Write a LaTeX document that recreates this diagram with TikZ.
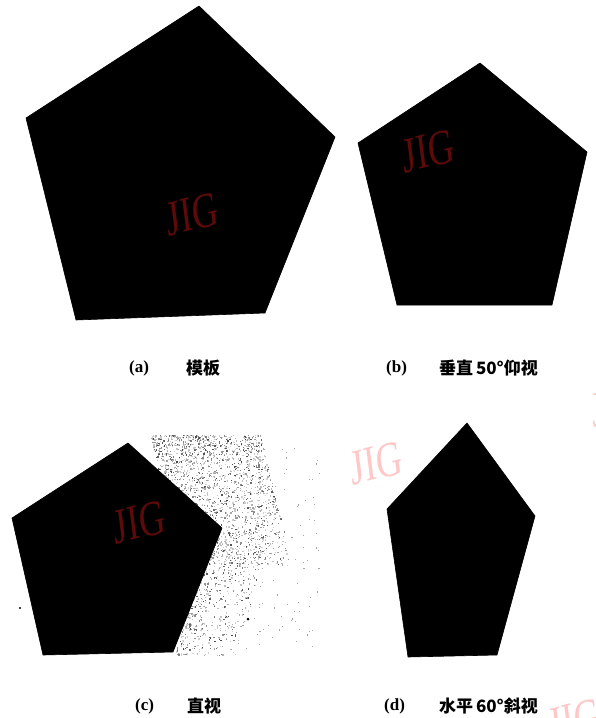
\documentclass[tikz,border=0pt]{standalone}
\usepackage{fontspec}
\setmainfont{Liberation Serif}
\newfontfamily\cjk{Noto Sans CJK SC}
\newfontfamily\wmfont{Liberation Serif}
\begin{document}
\begin{tikzpicture}[x=1pt,y=-1pt,
  shapefill/.style={fill=black,draw=black,line width=0.6pt,line join=round},
  capparen/.style={font=\fontsize{17}{17}\selectfont\bfseries,inner sep=0,anchor=west},
  captext/.style={font=\fontsize{17}{17}\selectfont\cjk\bfseries,inner sep=0,anchor=west},
  wmdark/.style={font=\fontsize{50}{50}\selectfont\wmfont,text=wmred,xscale=0.72,rotate=10,inner sep=0},
  wmlight/.style={font=\fontsize{50}{50}\selectfont\wmfont,text=wmpink,xscale=0.72,rotate=10,inner sep=0}]
\definecolor{wmred}{RGB}{92,10,10}
\definecolor{wmpink}{RGB}{255,200,200}
\useasboundingbox (0,0) rectangle (596,718);
\fill[white] (0,0) rectangle (596,718);
% speckle noise beside (c)
\pgfmathsetseed{7}
\foreach \i in {1,...,1900}{
  \pgfmathsetmacro{\py}{435+130*rnd^1.4}
  \pgfmathsetmacro{\px}{150+(\py-435)*0.25+110*rnd^1.2}
  \pgfmathsetmacro{\gv}{18+55*rnd^2}
  \fill[black!\gv] (\px,\py) rectangle ++(1.3,1.3);
}
\foreach \i in {1,...,600}{
  \pgfmathsetmacro{\py}{530+125*rnd}
  \pgfmathsetmacro{\px}{212-(\py-530)*0.3+60*rnd^1.6}
  \pgfmathsetmacro{\gv}{18+55*rnd^2}
  \fill[black!\gv] (\px,\py) rectangle ++(1.3,1.3);
}
\foreach \i in {1,...,120}{
  \pgfmathsetmacro{\px}{240+80*rnd}
  \pgfmathsetmacro{\py}{440+210*rnd}
  \fill[black!35] (\px,\py) rectangle ++(1.1,1.1);
}
\fill[black] (248,619) circle (1.5);
\fill[black] (20,608) circle (1.2);
% pentagons
\fill[shapefill] (199,6) -- (335,137) -- (265,313) -- (76,320) -- (26,118) -- cycle;
\fill[shapefill] (480,63) -- (587,152) -- (552,305) -- (397,305) -- (358,143) -- cycle;
\fill[shapefill] (128,443) -- (222,528) -- (173,652) -- (43,655) -- (12,518) -- cycle;
\fill[shapefill] (467,423) -- (535,516) -- (497,655) -- (408,657) -- (387,509) -- cycle;
% watermarks
\node[wmdark] (wa) at (192,214) {JIG};
\node[wmdark] (wb) at (428,151) {JIG};
\node[wmdark] (wc) at (139,522) {JIG};
\node[wmlight] (wd) at (376,463) {JIG};
\begin{scope}
\clip (0,0) rectangle (596,718);
\node[wmlight] (we) at (598,410) {J};
\node[wmlight] (wf) at (574,720) {JIG};
\end{scope}
% captions
\node[capparen] (ca) at (129,368) {(a)};
\node[captext] (ta) at (186,368) {模板};
\node[capparen] (cb) at (386,368) {(b)};
\node[captext] (tb) at (439,368) {垂直\,50°仰视};
\node[capparen] (cc) at (135,706) {(c)};
\node[captext] (tc) at (187,706) {直视};
\node[capparen] (cd) at (384,706) {(d)};
\node[captext] (td) at (439,706) {水平\,60°斜视};
\end{tikzpicture}
\end{document}
